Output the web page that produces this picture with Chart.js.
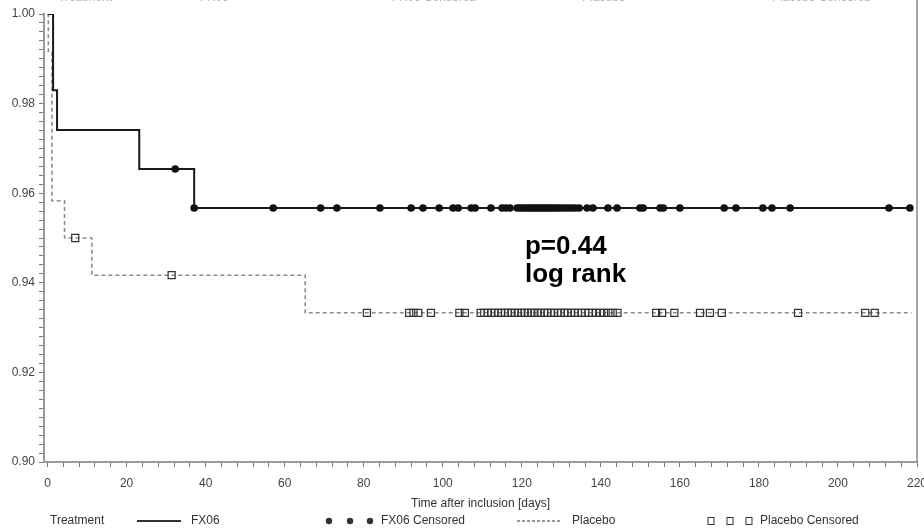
<!DOCTYPE html>
<html>
<head>
<meta charset="utf-8">
<script src="https://cdn.jsdelivr.net/npm/chart.js@4.4.1/dist/chart.umd.min.js"></script>
<style>
  html, body { margin: 0; padding: 0; background: #fff; }
</style>
</head>
<body>
<canvas id="km" width="924" height="530"></canvas>
<script>
// Kaplan-Meier steps (time in days, survival probability)
const fx06Time = [0, 1.4, 2.4, 23.2, 37.1, 218.6];
const fx06Surv = [1.0, 0.983, 0.9741, 0.9654, 0.9567, 0.9567];
const placeboTime = [0, 0.2, 1.1, 4.3, 11.2, 65.2, 218.6];
const placeboSurv = [1.0, 0.9917, 0.9583, 0.95, 0.9417, 0.9333, 0.9333];

// censored observations, grouped by the survival level they sit on
const fx06CensorLevels = [0.9654, 0.9567];
const fx06CensorTimes = [
  [32.3],
  [37.1, 57.1, 69.1, 73.2, 84.1, 92.0, 95.0, 99.1, 102.6, 103.9, 107.2, 108.2, 112.2, 115.0, 116.0, 117.0,
   118.8, 119.5, 120.2, 120.8, 121.5, 122.0, 122.6, 123.1, 123.7, 124.2, 124.8, 125.3, 125.9, 126.4, 127.0,
   127.6, 128.2, 128.8, 129.5, 130.2, 131.0, 131.8, 132.6, 133.5, 134.5, 136.5, 138.0, 141.8, 144.1, 149.9,
   150.7, 155.0, 155.8, 160.0, 171.2, 174.2, 181.0, 183.3, 187.9, 212.9, 218.2]
];
const placeboCensorLevels = [0.95, 0.9417, 0.9333];
const placeboCensorTimes = [
  [7.0],
  [31.4],
  [80.8, 91.5, 92.6, 93.8, 97.0, 104.2, 105.6, 109.6, 110.5, 111.4, 112.3, 113.1, 114.0, 114.8, 115.7, 116.5,
   117.4, 118.2, 119.0, 119.9, 120.7, 121.5, 122.4, 123.2, 124.0, 124.8, 125.7, 126.5, 127.4, 128.2, 129.1,
   129.9, 130.8, 131.6, 132.5, 133.4, 134.2, 135.1, 136.0, 136.9, 137.8, 138.8, 139.8, 140.8, 141.9, 143.0,
   144.2, 154.0, 155.5, 158.6, 165.1, 167.6, 170.6, 189.9, 206.9, 209.3]
];

const xMin = -0.9, xMax = 220, xStep = 4, xLabelEvery = 20;
const yMin = 0.90, yMax = 1.00, yStep = 0.002;

const legendItems = ['Treatment', 'FX06', 'FX06 Censored', 'Placebo', 'Placebo Censored'];

const toPoints = (xs, ys) => xs.map((t, i) => ({ x: t, y: ys[i] }));
const censorPoints = (groups, levels) =>
  groups.flatMap((ts, g) => ts.map(t => ({ x: t, y: levels[g] })));

const FONT = '"Liberation Sans", Arial, sans-serif';

// right frame line, p-value note and the legend rows
const extras = {
  id: 'extras',
  afterDatasetsDraw(chart) {
    const { ctx, chartArea, scales } = chart;
    ctx.save();
    ctx.strokeStyle = '#888';
    ctx.lineWidth = 1.5;
    ctx.beginPath();
    ctx.moveTo(chartArea.right, 0);
    ctx.lineTo(chartArea.right, chartArea.bottom);
    ctx.stroke();

    ctx.fillStyle = '#000';
    ctx.font = 'bold 26px ' + FONT;
    ctx.textBaseline = 'alphabetic';
    const px = scales.x.getPixelForValue(120.8);
    ctx.fillText('p=0.44', px, scales.y.getPixelForValue(0.9464));
    ctx.fillText('log rank', px, scales.y.getPixelForValue(0.9402));
    ctx.restore();
  },
  afterDraw(chart) {
    const { ctx } = chart;
    ctx.save();
    ctx.font = '12px ' + FONT;
    ctx.textBaseline = 'middle';

    // bottom legend row
    const y = 521;
    ctx.fillStyle = '#333';
    ctx.strokeStyle = '#333';
    ctx.fillText(legendItems[0], 50, y);
    ctx.lineWidth = 2;
    ctx.beginPath(); ctx.moveTo(137, y); ctx.lineTo(181, y); ctx.stroke();
    ctx.fillText(legendItems[1], 191, y);
    [329, 350, 370].forEach(cx => {
      ctx.beginPath(); ctx.arc(cx, y, 3.2, 0, Math.PI * 2); ctx.fill();
    });
    ctx.fillText(legendItems[2], 381, y);
    ctx.lineWidth = 1.2;
    ctx.setLineDash([3, 2]);
    ctx.beginPath(); ctx.moveTo(517, y); ctx.lineTo(560, y); ctx.stroke();
    ctx.setLineDash([]);
    ctx.fillText(legendItems[3], 572, y);
    ctx.lineWidth = 1;
    [711, 730, 749].forEach(cx => ctx.strokeRect(cx - 3, y - 3.5, 6, 7));
    ctx.fillText(legendItems[4], 760, y);

    // clipped copy of the legend text at the very top edge
    ctx.fillStyle = '#b5b5b5';
    [[legendItems[0], 58], [legendItems[1], 200], [legendItems[2], 392],
     [legendItems[3], 582], [legendItems[4], 772]].forEach(([t, x]) => ctx.fillText(t, x, -2.5));
    ctx.restore();
  }
};

new Chart(document.getElementById('km'), {
  type: 'line',
  data: {
    datasets: [
      {
        label: 'FX06 Censored',
        data: censorPoints(fx06CensorTimes, fx06CensorLevels),
        showLine: false,
        pointStyle: 'circle',
        pointRadius: 3.8,
        pointBackgroundColor: '#111',
        pointBorderColor: '#111',
        pointBorderWidth: 0
      },
      {
        label: 'Placebo Censored',
        data: censorPoints(placeboCensorTimes, placeboCensorLevels),
        showLine: false,
        pointStyle: 'rect',
        pointRadius: 5,
        pointBackgroundColor: 'rgba(255,255,255,0)',
        pointBorderColor: '#333',
        pointBorderWidth: 1.2
      },
      {
        label: 'FX06',
        data: toPoints(fx06Time, fx06Surv),
        stepped: 'before',
        borderColor: '#1a1a1a',
        borderWidth: 2,
        pointRadius: 0,
        fill: false
      },
      {
        label: 'Placebo',
        data: toPoints(placeboTime, placeboSurv),
        stepped: 'before',
        borderColor: '#8c8c8c',
        borderWidth: 1.6,
        borderDash: [4, 3],
        pointRadius: 0,
        fill: false
      }
    ]
  },
  options: {
    responsive: false,
    animation: false,
    layout: { padding: { top: 14, bottom: 18, left: 0, right: 0 } },
    plugins: {
      legend: { display: false },
      tooltip: { enabled: false }
    },
    scales: {
      x: {
        type: 'linear',
        min: xMin,
        max: xMax,
        afterFit: s => { s.height = 50; s.paddingRight = 7; s.paddingLeft = 0; },
        border: { color: '#999', width: 2 },
        grid: { drawOnChartArea: false, tickLength: 5, color: '#777' },
        ticks: {
          stepSize: xStep,
          includeBounds: false,
          autoSkip: false,
          maxRotation: 0,
          padding: 9,
          color: '#444',
          font: { size: 12, family: FONT },
          callback: v => (Math.abs(v - Math.round(v)) < 1e-6 && Math.round(v) % xLabelEvery === 0) ? String(Math.round(v)) : ''
        },
        title: {
          display: true,
          text: 'Time after inclusion [days]',
          color: '#333',
          padding: { top: 2, bottom: 1 },
          font: { size: 12, family: FONT }
        }
      },
      y: {
        min: yMin,
        max: yMax,
        afterFit: s => { s.width = 44; },
        border: { color: '#999', width: 2 },
        grid: { drawOnChartArea: false, tickLength: 5, color: '#777' },
        ticks: {
          stepSize: yStep,
          autoSkip: false,
          padding: 4,
          color: '#444',
          font: { size: 12, family: FONT },
          callback: v => (Math.round(v * 1000) % 20 === 0) ? (Math.round(v * 100) / 100).toFixed(2) : ''
        }
      }
    }
  },
  plugins: [extras]
});
</script>
</body>
</html>
